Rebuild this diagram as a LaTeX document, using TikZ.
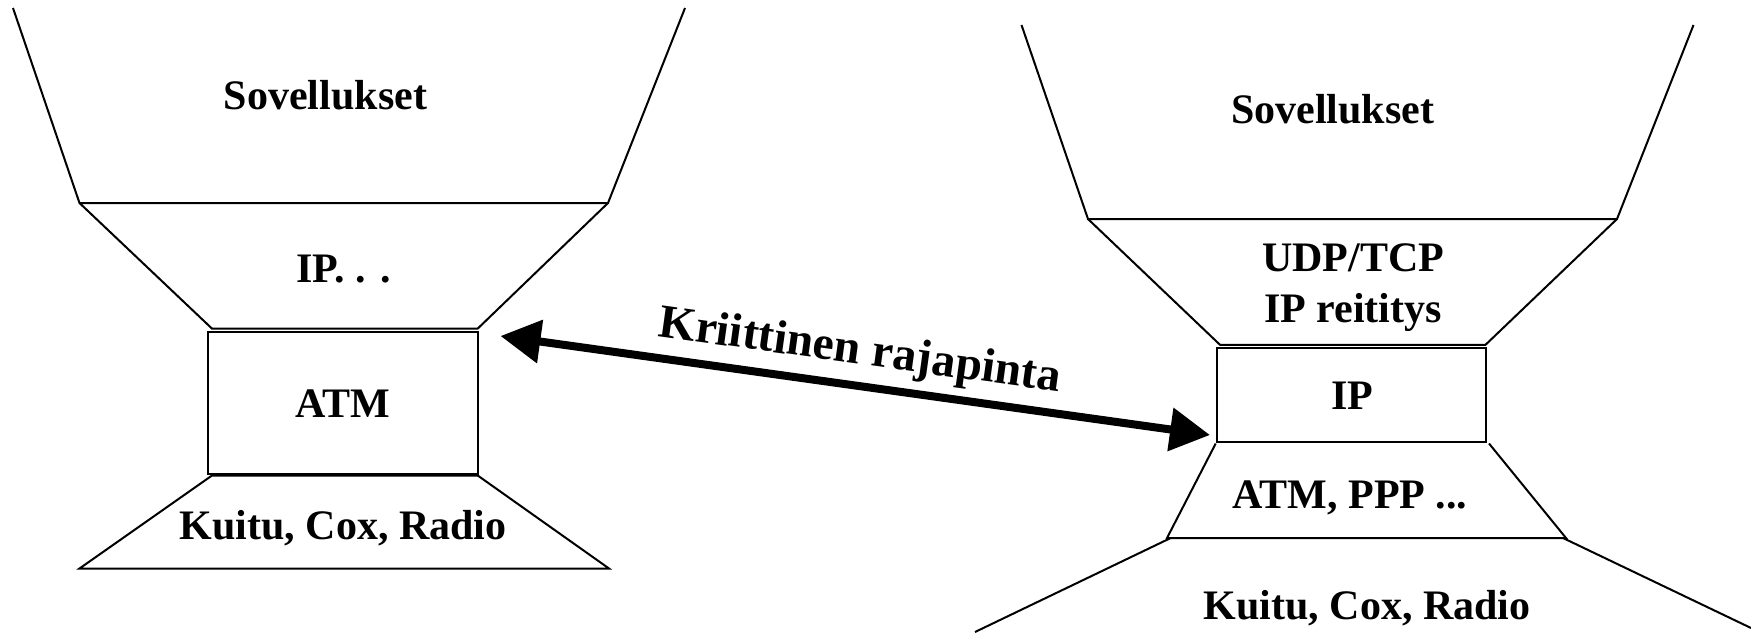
\documentclass[tikz,border=0pt]{standalone}
\usepackage{fontspec}
\setmainfont{Liberation Serif}
\usetikzlibrary{arrows.meta}
\begin{document}
\begin{tikzpicture}[x=1pt,y=-1pt,line width=2pt,line join=miter,
  lbl/.style={font=\fontsize{42}{48}\selectfont\bfseries,inner sep=0pt,anchor=base},
  layerbox/.style={draw,line width=2pt,inner sep=0pt},
  bigarrow/.style={line width=8pt,{Triangle[length=40pt,width=42pt]}-{Triangle[length=40pt,width=42pt]}}]
\useasboundingbox (0,0) rectangle (1751,632);
% left stack
\draw (13,8) -- (79.5,203) -- (608,203) -- (685,8);
\draw (79.5,203) -- (212,328.6) -- (477.7,328.6) -- (608,203);
\node[layerbox,minimum width=269.7pt,minimum height=142.3pt] (atm) at (342.9,402.7) {};
\draw (212,475.5) -- (79.5,568.5) -- (609,568.5) -- (477.7,475.5) -- cycle;
\node[lbl] (lsov) at (325.5,109) {Sovellukset};
\node[lbl] (lip) at (343.7,282) {IP. . .};
\node[lbl] (latm) at (342.9,417) {ATM};
\node[lbl] (lkuitu) at (343.3,539) {Kuitu, Cox, Radio};
% right stack
\draw (1021.5,25) -- (1088,219) -- (1617,219) -- (1693.5,25);
\draw (1088,219) -- (1220,344.8) -- (1485.5,344.8) -- (1617,219);
\node[layerbox,minimum width=268.8pt,minimum height=93.9pt] (ipbox) at (1351.1,394.6) {};
\draw (1215.7,443.5) -- (1167,538) -- (1566,538) -- (1489,443.5);
\draw (1170.7,538) -- (975,632);
\draw (1563,538) -- (1751,628);
\node[lbl] (rsov) at (1332.7,123) {Sovellukset};
\node[lbl] (rudp) at (1353,271) {UDP/TCP};
\node[lbl] (rreit) at (1353,322.6) {IP reititys};
\node[lbl] (rip) at (1352,409) {IP};
\node[lbl] (ratm) at (1350,508) {ATM, PPP ...};
\node[lbl] (rkuitu) at (1367,619) {Kuitu, Cox, Radio};
% arrow
\coordinate (aL) at (500.5,336);
\coordinate (aR) at (1210,435);
\draw[bigarrow] (aL) -- (aR);
\node[font=\fontsize{47.5}{52}\selectfont\bfseries,inner sep=0pt,anchor=base,rotate=-7.9] (krit) at (858,364) {Kriittinen rajapinta};
\end{tikzpicture}
\end{document}
